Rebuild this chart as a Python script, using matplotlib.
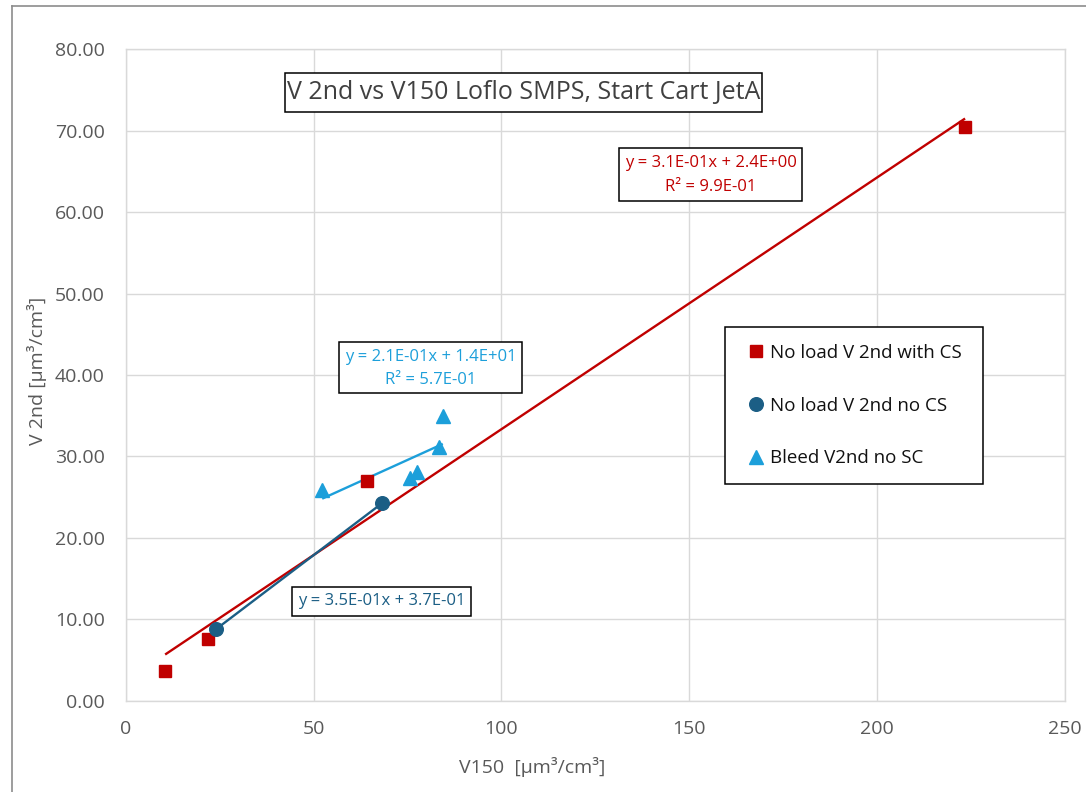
import numpy as np
import matplotlib
matplotlib.use("Agg")
import matplotlib.pyplot as plt
from matplotlib.patches import Rectangle
from matplotlib.lines import Line2D

# Volume concentrations [µm³/cm³]: V150 (x) against V 2nd (y)
cs_v150 = [10.5, 22.0, 64.3, 223.4]
cs_v2nd = [3.7, 7.6, 27.0, 70.4]

nocs_v150 = [24.0, 68.3]
nocs_v2nd = [8.77, 24.28]

bleed_v150 = [52.3, 84.4, 83.5, 77.5, 75.7]
bleed_v2nd = [25.9, 35.0, 31.2, 28.1, 27.3]

x_ticks = [0, 50, 100, 150, 200, 250]
y_ticks = [0, 10, 20, 30, 40, 50, 60, 70, 80]

series_labels = ["No load V 2nd with CS", "No load V 2nd no CS", "Bleed V2nd no SC"]
title_text = "V 2nd vs V150 Loflo SMPS, Start Cart JetA"
x_label = "V150  [μm³/cm³]"
y_label = "V 2nd [μm³/cm³]"

RED = "#C00000"
NAVY = "#1B5E85"
SKY = "#1C9FDA"
TXT = "#595959"
GRID = "#D9D9D9"

plt.rcParams['font.family'] = ['Open Sans', 'DejaVu Sans']

W, H = 1086, 792
fig = plt.figure(figsize=(W / 100, H / 100), dpi=100)


def fx(px):
    return px / W


def fy(py):
    return 1 - py / H


AX_L, AX_R, AX_T, AX_B = 125.7, 1065, 49.3, 700.7
ax = fig.add_axes([fx(AX_L), fy(AX_B), (AX_R - AX_L) / W, (AX_B - AX_T) / H])
ax.set_xlim(0, 250)
ax.set_ylim(0, 80)
ax.set_xticks(x_ticks)
ax.set_yticks(y_ticks)
ax.set_yticklabels([f"{v:.2f}" for v in y_ticks])
ax.tick_params(axis='both', length=0, labelsize=14, labelcolor=TXT)
ax.tick_params(axis='y', pad=15)
ax.tick_params(axis='x', pad=14)
ax.grid(True, color=GRID, lw=1.0, zorder=0)
ax.set_axisbelow(True)
for s in ax.spines.values():
    s.set_color(GRID)
    s.set_linewidth(1.0)


def fit(x, y):
    x = np.asarray(x, float)
    y = np.asarray(y, float)
    m, b = np.polyfit(x, y, 1)
    r2 = np.corrcoef(x, y)[0, 1] ** 2
    return m, b, r2


series = [
    (cs_v150, cs_v2nd, RED, 's', 8.8),
    (nocs_v150, nocs_v2nd, NAVY, 'o', 9.8),
    (bleed_v150, bleed_v2nd, SKY, '^', 10.0),
]
fits = []
handles = []
for (x, y, c, mk, ms), lab in zip(series, series_labels):
    m, b, r2 = fit(x, y)
    fits.append((m, b, r2))
    xs = np.array([min(x), max(x)])
    ax.plot(xs, m * xs + b, color=c, lw=1.7, zorder=2, solid_capstyle='butt')
    h, = ax.plot(x, y, ls='none', marker=mk, ms=ms, color=c, mec=c,
                 zorder=3, label=lab, clip_on=False)
    handles.append(h)

ax.set_xlabel(x_label, fontsize=14, color=TXT)
ax.set_ylabel(y_label, fontsize=14, color=TXT)
ax.xaxis.set_label_coords((532 - AX_L) / (AX_R - AX_L), (AX_B - 767) / (AX_B - AX_T))
ax.yaxis.set_label_coords((37 - AX_L) / (AX_R - AX_L), (AX_B - 371) / (AX_B - AX_T))
ax.xaxis.label.set_va('center')
ax.yaxis.label.set_va('center')

# legend box
leg = fig.legend(handles=handles, loc='upper left',
                 bbox_to_anchor=(fx(725), fy(487), 258 / W, 160 / H),
                 bbox_transform=fig.transFigure, mode='expand',
                 borderaxespad=0, fontsize=13.5, frameon=True, fancybox=False,
                 framealpha=1, edgecolor='black', borderpad=0.9,
                 labelspacing=1.85, handlelength=1.5, handletextpad=0.0)
leg.get_frame().set_linewidth(1.1)
for t in leg.get_texts():
    t.set_color('#111111')


def boxed(x0, y0, x1, y1):
    fig.patches.append(Rectangle((fx(x0), fy(y1)), (x1 - x0) / W, (y1 - y0) / H,
                                 transform=fig.transFigure, fc='white',
                                 ec='black', lw=1.1, zorder=5))


# chart title
boxed(285, 72.7, 762, 111.7)
fig.text(fx(523.5), fy(92), title_text, ha='center', va='center',
         fontsize=18, color='#404040', zorder=6)

# trendline equations
m, b, r2 = fits[0]
boxed(619, 148, 802, 201)
fig.text(fx(710.5), fy(163), f"y = {m:.1E}x + {b:.1E}", ha='center',
         va='center', fontsize=12, color=RED, zorder=6)
fig.text(fx(710.5), fy(187), f"R² = {r2:.1E}", ha='center',
         va='center', fontsize=12, color=RED, zorder=6)

m, b, r2 = fits[2]
boxed(339, 342, 522, 393)
fig.text(fx(430.5), fy(357), f"y = {m:.1E}x + {b:.1E}", ha='center',
         va='center', fontsize=12, color=SKY, zorder=6)
fig.text(fx(430.5), fy(380), f"R² = {r2:.1E}", ha='center',
         va='center', fontsize=12, color=SKY, zorder=6)

m, b, r2 = fits[1]
boxed(292, 587, 471, 616)
fig.text(fx(381.5), fy(601), f"y = {m:.1E}x + {b:.1E}", ha='center',
         va='center', fontsize=12, color=NAVY, zorder=6)

# outer chart border
fig.add_artist(Line2D([fx(12), 1.0], [fy(6), fy(6)], transform=fig.transFigure,
                      color='#8C8C8C', lw=1.2))
fig.add_artist(Line2D([fx(12), fx(12)], [fy(6), 0.0], transform=fig.transFigure,
                      color='#8C8C8C', lw=1.2))

fig.savefig("out.png", dpi=100, facecolor='white')
